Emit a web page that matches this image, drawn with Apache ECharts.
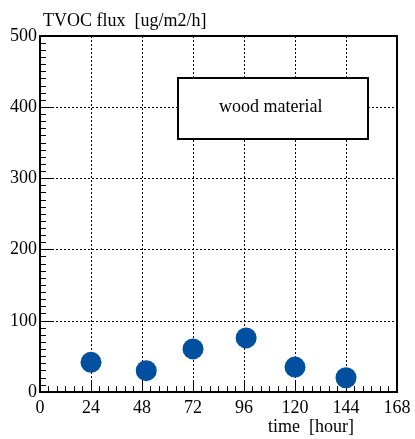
<!DOCTYPE html>
<html>
<head>
<meta charset="UTF-8">
<title>TVOC flux - wood material</title>
<style>
  html, body { margin: 0; padding: 0; background: #fff; }
  #main { width: 415px; height: 439px; }
</style>
</head>
<body>
<div id="main"></div>
<script src="https://cdn.jsdelivr.net/npm/echarts@6/dist/echarts.min.js"></script>
<script>
// data
var hours = [24, 50, 72, 97, 120, 144];
var flux = [41.7, 30, 60.5, 76, 35, 20];
var xTicks = [0, 24, 48, 72, 96, 120, 144, 168];
var yTicks = [0, 100, 200, 300, 400, 500];
var legendText = 'wood material';

var font = 'Liberation Serif';
var points = hours.map(function (h, i) { return [h, flux[i]]; });

var chart = echarts.init(document.getElementById('main'));
chart.setOption({
    animation: false,
    backgroundColor: '#fff',
    textStyle: { fontFamily: font },
    grid: {
        left: 40, right: 18, top: 36, bottom: 47,
        show: true, borderColor: '#000', borderWidth: 2
    },
    xAxis: {
        type: 'value',
        min: xTicks[0], max: xTicks[xTicks.length - 1], interval: 24,
        axisLine: { show: true, onZero: false, lineStyle: { color: '#000', width: 2 } },
        axisTick: { show: true, inside: true, length: 10, lineStyle: { color: '#000', width: 1 } },
        minorTick: { show: true, splitNumber: 6, length: 6, lineStyle: { color: '#000', width: 1 } },
        splitLine: { show: true, lineStyle: { color: '#000', type: [2, 2], width: 1 } },
        axisLabel: { color: '#000', fontFamily: font, fontSize: 18, margin: 7 }
    },
    yAxis: {
        type: 'value',
        min: yTicks[0], max: yTicks[yTicks.length - 1], interval: 100,
        axisLine: { show: true, onZero: false, lineStyle: { color: '#000', width: 2 } },
        axisTick: { show: true, inside: true, length: 12, lineStyle: { color: '#000', width: 1 } },
        minorTick: { show: true, splitNumber: 10, length: 6, lineStyle: { color: '#000', width: 1 } },
        splitLine: { show: true, lineStyle: { color: '#000', type: [2, 2], width: 1 } },
        axisLabel: { color: '#000', fontFamily: font, fontSize: 18, margin: 3 }
    },
    series: [{
        type: 'scatter',
        data: points,
        symbol: 'circle',
        symbolSize: 21,
        itemStyle: { color: '#00509f', opacity: 1 }
    }],
    graphic: [
        {
            type: 'text', left: 43, top: 12,
            style: { text: 'TVOC flux  [ug/m2/h]', font: '18px ' + font, fill: '#000' }
        },
        {
            type: 'text', right: 61, top: 418,
            style: { text: 'time  [hour]', font: '18px ' + font, fill: '#000' }
        },
        {
            type: 'rect', left: 177, top: 77, z: 10,
            shape: { width: 190, height: 61 },
            style: { fill: '#fff', stroke: '#000', lineWidth: 2 }
        },
        {
            type: 'text', left: 219, top: 98, z: 11,
            style: { text: legendText, font: '18px ' + font, fill: '#000' }
        }
    ]
});
</script>
</body>
</html>
